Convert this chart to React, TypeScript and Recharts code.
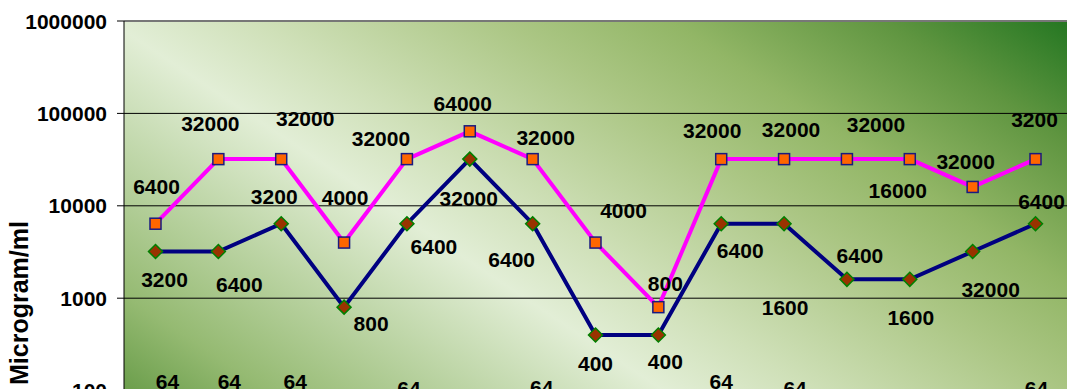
import React from 'react'
import { CartesianGrid, Line, LineChart, ReferenceLine, XAxis, YAxis } from 'recharts'

const samples = ['1', '2', '3', '4', '5', '6', '7', '8', '9', '10', '11', '12', '13', '14', '15']

const pinkValues = [6400, 32000, 32000, 4000, 32000, 64000, 32000, 4000, 800, 32000, 32000, 32000, 32000, 16000, 32000]
const navyValues = [3200, 3200, 6400, 800, 6400, 32000, 6400, 400, 400, 6400, 6400, 1600, 1600, 3200, 6400]
const lowValues = [64, 64, 64, 64, 64, 64, 64, 64, 64, 64, 64, 64, 64, 64, 64]

// label texts as printed on the chart
const pinkLabels = ['6400', '32000', '32000', '4000', '32000', '64000', '32000', '4000', '800', '32000', '32000', '32000', '16000', '32000', '3200']
const navyLabels = ['3200', '6400', '3200', '800', '6400', '32000', '6400', '400', '400', '6400', '1600', '6400', '1600', '32000', '6400']
const lowLabels = ['64', '64', '64', '64', '64', '64', '64', '64', '64', '64', '64', '64', '64', '64', '64']

const yTicks = [100, 1000, 10000, 100000, 1000000]

// where each label sits relative to its point
const pinkOffsets = [[1, -37], [-8, -36], [24, -41], [1, -45], [-26, -21], [-7, -28], [13, -22], [28, -32], [7, -24], [-9, -29], [7, -30], [29, -35], [-12, 31], [-7, -25], [-1, -40]]
const navyOffsets = [[9, 28], [21, 33], [-7, -27], [27, 16], [27, 23], [-1, 39], [-21, 36], [0, 29], [7, 27], [19, 27], [1, 84], [13, -24], [1, 38], [18, 38], [6, -22]]
const lowOffsets = [[12, -27], [11, -27], [14, -27], [0, 0], [2, -20], [0, 0], [9, -21], [0, 0], [0, 0], [0, -27], [11, -20], [0, 0], [0, 0], [0, 0], [1, -20]]

const chartData = samples.map((s, i) => ({
  sample: s,
  pink: pinkValues[i],
  navy: navyValues[i],
  low: lowValues[i],
}))

const font = '"Liberation Sans", Arial, sans-serif'

const makeLabel = (texts: string[], offsets: number[][]) => (props: any) => {
  const { x, y, index } = props
  const [dx, dy] = offsets[index]
  return (
    <text
      key={'l' + index}
      x={x + dx}
      y={y + dy}
      textAnchor="middle"
      dominantBaseline="central"
      fontFamily={font}
      fontWeight="bold"
      fontSize={21}
      fill="#000"
    >
      {texts[index]}
    </text>
  )
}

const YTick = (props: any) => {
  const { x, y, payload } = props
  return (
    <text x={x} y={y} textAnchor="end" dominantBaseline="central" fontFamily={font} fontWeight="bold" fontSize={21} fill="#000">
      {payload.value}
    </text>
  )
}

const SquareDot = (props: any) => {
  const { cx, cy, index } = props
  return <rect key={'s' + index} x={cx - 5.5} y={cy - 5.5} width={11} height={11} fill="#ff6600" stroke="#1a1a80" strokeWidth={1.5} />
}

const DiamondDot = (props: any) => {
  const { cx, cy, index } = props
  const r = 7
  return (
    <polygon
      key={'d' + index}
      points={`${cx},${cy - r} ${cx + r},${cy} ${cx},${cy + r} ${cx - r},${cy}`}
      fill="#993300"
      stroke="#008000"
      strokeWidth={1.5}
    />
  )
}

const App = () => {
  return (
    <div style={{ position: 'fixed', left: 0, top: 0, width: 1067, height: 389, overflow: 'hidden', background: '#fff' }}>
      <svg width={0} height={0} style={{ position: 'absolute' }}>
        <defs>
          <linearGradient id="plotBg" gradientUnits="userSpaceOnUse" x1="124" y1="482" x2="632" y2="-280">
            <stop offset="0" stopColor="#5a9440" />
            <stop offset="0.09" stopColor="#6ea04e" />
            <stop offset="0.17" stopColor="#95ba72" />
            <stop offset="0.41" stopColor="#e2eed6" />
            <stop offset="0.5" stopColor="#cfe0b8" />
            <stop offset="0.65" stopColor="#abc684" />
            <stop offset="0.75" stopColor="#92b666" />
            <stop offset="0.88" stopColor="#5f9540" />
            <stop offset="1" stopColor="#1f741f" />
          </linearGradient>
        </defs>
      </svg>
      <LineChart width={1067} height={520} data={chartData} margin={{ top: 21, right: 0, left: 0, bottom: 37 }}>
        <CartesianGrid vertical={false} stroke="#000" strokeOpacity={1} fill="url(#plotBg)" fillOpacity={1} />
        <XAxis dataKey="sample" hide padding={{ left: 31.5, right: 31.5 }} />
        <YAxis
          scale="log"
          domain={[10, 1000000]}
          ticks={yTicks}
          allowDataOverflow
          width={124}
          tickSize={7}
          tickMargin={10}
          axisLine={{ stroke: '#000' }}
          tickLine={{ stroke: '#000' }}
          tick={<YTick />}
          interval={0}
        />
        <ReferenceLine y={1000000} stroke="#777" strokeWidth={2} />
        <Line
          dataKey="low"
          stroke="#ffff00"
          strokeWidth={4}
          dot={false}
          label={makeLabel(lowLabels, lowOffsets)}
          isAnimationActive={false}
        />
        <Line
          dataKey="navy"
          stroke="#000080"
          strokeWidth={4}
          dot={DiamondDot}
          activeDot={false}
          label={makeLabel(navyLabels, navyOffsets)}
          isAnimationActive={false}
        />
        <Line
          dataKey="pink"
          stroke="#ff00ff"
          strokeWidth={4}
          dot={SquareDot}
          activeDot={false}
          label={makeLabel(pinkLabels, pinkOffsets)}
          isAnimationActive={false}
        />
      </LineChart>
      <svg width={60} height={389} style={{ position: 'absolute', left: 0, top: 0 }}>
        <text
          transform="translate(28,303) rotate(-90)"
          textAnchor="middle"
          fontFamily={font}
          fontWeight="bold"
          fontSize={25}
          fill="#000"
        >
          Microgram/ml
        </text>
      </svg>
    </div>
  )
}

export default App
